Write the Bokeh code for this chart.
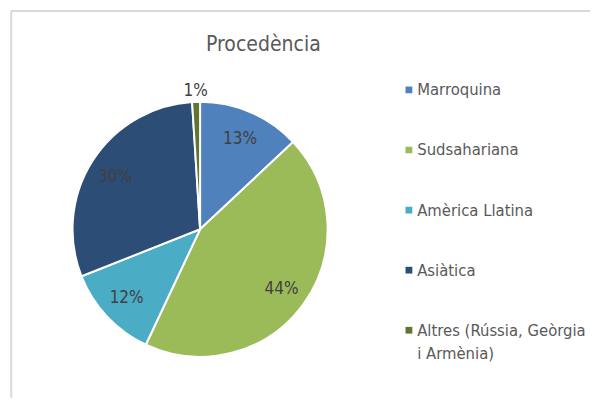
import math
from bokeh.plotting import figure
from bokeh.models import Range1d
from bokeh.core.properties import value
from bokeh.embed import file_html
from bokeh.resources import INLINE

title_text = "Procedència"
categories = ["Marroquina", "Sudsahariana", "Amèrica Llatina", "Asiàtica",
              "Altres (Rússia, Geòrgia\ni Armènia)"]
shares = [13, 44, 12, 30, 1]
colors = ["#4F81BD", "#9BBB59", "#4BACC6", "#2C4D75", "#5F7530"]

# drawing space in reference pixels (606 x 414), figure fits the page
RW, RH = 606, 414
W, H = 590, 398
FONT = "DejaVu Sans Condensed"

p = figure(width=W, height=H, output_backend="svg", toolbar_location=None,
           x_range=Range1d(0, RW), y_range=Range1d(0, RH), min_border=0)
p.axis.visible = False
p.grid.visible = False
p.outline_line_color = None
p.background_fill_color = "white"
p.border_fill_color = "white"

# chart border (extends beyond the visible area)
p.quad(left=[11], right=[RW + 50], top=[RH - 11], bottom=[-50],
       fill_color=None, line_color="#D9D9D9", line_width=2)

# title
p.text(x=[270], y=[RH - 45], text=[title_text], text_font=value(FONT),
       text_font_size="21px", text_color="#595959",
       text_align="center", text_baseline="middle")

# pie
cx, cy, R = 205, RH - 238, 131
total = float(sum(shares))
starts, ends, lx, ly, labels = [], [], [], [], []
cum = 0.0
for s in shares:
    a0 = math.pi / 2 - 2 * math.pi * cum / total
    cum += s
    a1 = math.pi / 2 - 2 * math.pi * cum / total
    starts.append(a0)
    ends.append(a1)
    mid = (a0 + a1) / 2
    rl = R * 0.79 if s / total >= 0.03 else R * 1.11
    lx.append(cx + rl * math.cos(mid))
    ly.append(cy + rl * math.sin(mid))
    labels.append(f"{s}%")

p.wedge(x=cx, y=cy, radius=R, start_angle=starts, end_angle=ends,
        direction="clock", fill_color=colors, line_color="white", line_width=2)

p.text(x=lx, y=ly, text=labels, text_font=value(FONT), text_font_size="17px",
       text_color="#404040", text_align="center", text_baseline="middle")

# legend
lg_x, lg_y0, lg_dy, line_dy = 419.5, RH - 93, 62.5, 24
ys = [lg_y0 - i * lg_dy for i in range(len(categories))]
p.rect(x=[lg_x] * len(ys), y=ys, width=7, height=7, fill_color=colors,
       line_color=None)
tx, ty, tt = [], [], []
for y0, name in zip(ys, categories):
    for k, line in enumerate(name.split("\n")):
        tx.append(428)
        ty.append(y0 - k * line_dy)
        tt.append(line)
p.text(x=tx, y=ty, text=tt, text_font=value(FONT),
       text_font_size="16.5px", text_color="#595959", text_align="left",
       text_baseline="middle")

open("out.html", "w").write(file_html(p, INLINE))
